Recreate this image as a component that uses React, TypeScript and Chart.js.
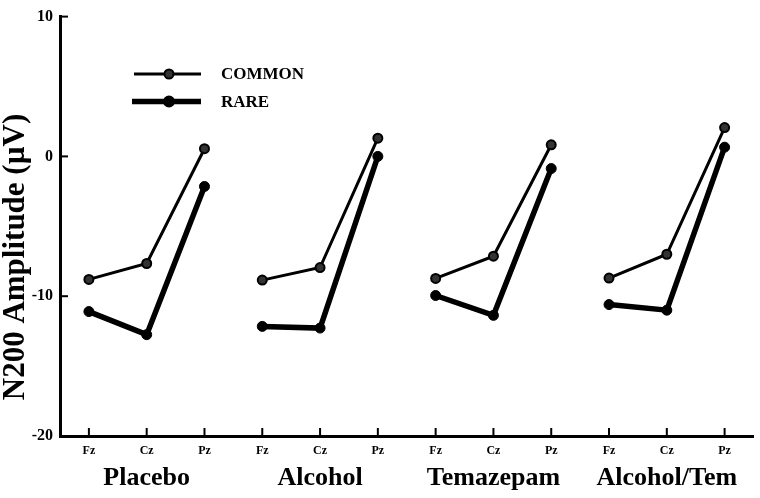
import React, { useEffect, useRef } from "react";
import { Chart, registerables } from "chart.js";

Chart.register(...registerables);

const electrodes = ["Fz", "Cz", "Pz"];
const conditions = ["Placebo", "Alcohol", "Temazepam", "Alcohol/Tem"];
const commonValues = [-8.8, -7.66, 0.55, -8.85, -7.95, 1.3, -8.73, -7.14, 0.83, -8.7, -7.0, 2.06];
const rareValues = [-11.1, -12.75, -2.15, -12.16, -12.28, 0.0, -9.95, -11.37, -0.87, -10.6, -11.0, 0.66];
const yTicks = [-20, -10, 0, 10];
const yTitle = "N200 Amplitude (µV)";
const seriesNames = ["COMMON", "RARE"];

const FONT = "'Liberation Serif', 'Times New Roman', serif";

const xLabels: string[] = conditions.flatMap(() => electrodes);

const decorPlugin = {
  id: "decor",
  afterDraw(chart: any) {
    const ctx = chart.ctx;
    const xs = chart.scales.x;
    const ys = chart.scales.y;
    const area = chart.chartArea;
    ctx.save();
    ctx.strokeStyle = "#000";
    ctx.lineWidth = 2;
    yTicks.forEach((v) => {
      const py = ys.getPixelForValue(v);
      ctx.beginPath();
      ctx.moveTo(area.left, py);
      ctx.lineTo(area.left + 8, py);
      ctx.stroke();
    });
    xLabels.forEach((_, i) => {
      const px = xs.getPixelForValue(i);
      ctx.beginPath();
      ctx.moveTo(px, area.bottom);
      ctx.lineTo(px, area.bottom - 8);
      ctx.stroke();
    });
    ctx.fillStyle = "#000";
    ctx.font = `bold 26px ${FONT}`;
    ctx.textAlign = "center";
    ctx.textBaseline = "alphabetic";
    conditions.forEach((c, g) => {
      const px = xs.getPixelForValue(g * electrodes.length + 1);
      ctx.fillText(c, px, 485);
    });
    ctx.save();
    ctx.translate(16, 257);
    ctx.rotate(-Math.PI / 2);
    ctx.font = `bold 31px ${FONT}`;
    ctx.textAlign = "center";
    ctx.textBaseline = "middle";
    ctx.fillText(yTitle, 0, 0);
    ctx.restore();
    const legendItems = [
      { name: seriesNames[0], y: 74, x0: 134, lw: 3, r: 4.5, fill: "#333" },
      { name: seriesNames[1], y: 101.5, x0: 132, lw: 5.5, r: 5, fill: "#000" },
    ];
    legendItems.forEach((it) => {
      ctx.lineWidth = it.lw;
      ctx.beginPath();
      ctx.moveTo(it.x0, it.y);
      ctx.lineTo(201, it.y);
      ctx.stroke();
      ctx.beginPath();
      ctx.arc(169, it.y, it.r, 0, Math.PI * 2);
      ctx.fillStyle = it.fill;
      ctx.fill();
      ctx.lineWidth = 2;
      ctx.stroke();
      ctx.fillStyle = "#000";
      ctx.font = `bold 17px ${FONT}`;
      ctx.textAlign = "left";
      ctx.textBaseline = "middle";
      ctx.fillText(it.name, 221, it.y + 1);
    });
    ctx.restore();
  },
};

const hideCross = (color: string) => (c: any) =>
  c.p0DataIndex % electrodes.length === electrodes.length - 1 ? "rgba(0,0,0,0)" : color;

export default function App() {
  const ref = useRef<HTMLCanvasElement | null>(null);
  useEffect(() => {
    document.body.style.margin = "0";
    const canvas = ref.current!;
    const chart = new Chart(canvas, {
      type: "line",
      data: {
        labels: xLabels,
        datasets: [
          {
            label: seriesNames[0],
            data: commonValues,
            borderColor: "#000",
            borderWidth: 3,
            pointRadius: 4.5,
            pointBorderWidth: 2,
            pointBackgroundColor: "#333",
            pointBorderColor: "#000",
            segment: { borderColor: hideCross("#000") },
            tension: 0,
          },
          {
            label: seriesNames[1],
            data: rareValues,
            borderColor: "#000",
            borderWidth: 5.5,
            pointRadius: 5,
            pointBorderWidth: 1,
            pointBackgroundColor: "#000",
            pointBorderColor: "#000",
            segment: { borderColor: hideCross("#000") },
            tension: 0,
          },
        ],
      },
      options: {
        animation: false,
        responsive: false,
        devicePixelRatio: 1,
        layout: { padding: { top: 15, right: 5, left: 0, bottom: 0 } },
        plugins: { legend: { display: false }, tooltip: { enabled: false } },
        scales: {
          x: {
            type: "category",
            offset: true,
            grid: { display: false, drawTicks: false },
            border: { display: true, color: "#000", width: 3 },
            ticks: {
              color: "#000",
              font: { family: FONT, size: 12, weight: "bold" },
              padding: 8,
              maxRotation: 0,
              autoSkip: false,
            },
            afterFit: (s: any) => {
              s.height = 62;
            },
          },
          y: {
            min: -20,
            max: 10,
            grid: { display: false, drawTicks: false },
            border: { display: true, color: "#000", width: 3 },
            ticks: {
              stepSize: 10,
              color: "#000",
              padding: 7,
              font: { family: FONT, size: 16, weight: "bold" },
            },
            afterFit: (s: any) => {
              s.width = 60;
            },
          },
        },
      },
      plugins: [decorPlugin],
    });
    return () => chart.destroy();
  }, []);
  return (
    <div style={{ width: 760, height: 498, background: "#fff" }}>
      <canvas ref={ref} width={760} height={498} style={{ display: "block" }} />
    </div>
  );
}
